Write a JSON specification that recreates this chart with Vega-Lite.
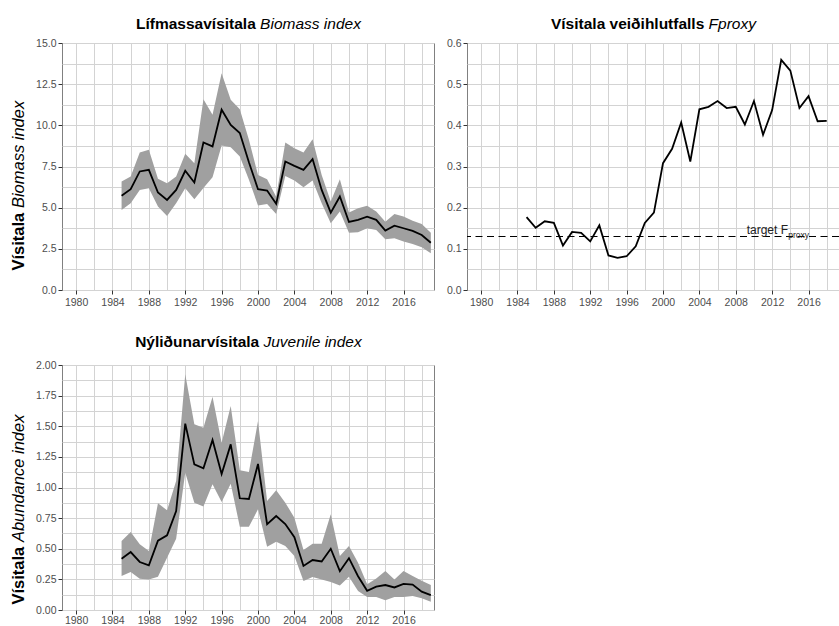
{
  "$schema": "https://vega.github.io/schema/vega-lite/v6.json",
  "background": "white",
  "padding": {"left": 9, "top": 15, "right": 0, "bottom": 0},
  "columns": 2,
  "bounds": "flush",
  "spacing": {"row": 75, "column": 33},
  "datasets": {
    "bio": [
      {"year": 1985, "est": 5.72, "lo": 4.86, "hi": 6.59},
      {"year": 1986, "est": 6.12, "lo": 5.27, "hi": 6.89},
      {"year": 1987, "est": 7.2, "lo": 6.08, "hi": 8.35},
      {"year": 1988, "est": 7.3, "lo": 6.18, "hi": 8.51},
      {"year": 1989, "est": 5.92, "lo": 5.07, "hi": 6.75},
      {"year": 1990, "est": 5.47, "lo": 4.5, "hi": 6.48},
      {"year": 1991, "est": 6.08, "lo": 5.27, "hi": 6.89},
      {"year": 1992, "est": 7.24, "lo": 6.18, "hi": 8.27},
      {"year": 1993, "est": 6.53, "lo": 5.51, "hi": 7.7},
      {"year": 1994, "est": 8.96, "lo": 6.2, "hi": 11.59},
      {"year": 1995, "est": 8.72, "lo": 6.85, "hi": 10.64},
      {"year": 1996, "est": 10.95, "lo": 8.78, "hi": 13.17},
      {"year": 1997, "est": 10.03, "lo": 8.67, "hi": 11.55},
      {"year": 1998, "est": 9.53, "lo": 8.1, "hi": 10.98},
      {"year": 1999, "est": 7.76, "lo": 6.69, "hi": 9.12},
      {"year": 2000, "est": 6.12, "lo": 5.13, "hi": 6.99},
      {"year": 2001, "est": 6.04, "lo": 5.23, "hi": 6.73},
      {"year": 2002, "est": 5.23, "lo": 4.62, "hi": 5.67},
      {"year": 2003, "est": 7.8, "lo": 6.93, "hi": 8.96},
      {"year": 2004, "est": 7.54, "lo": 6.65, "hi": 8.61},
      {"year": 2005, "est": 7.3, "lo": 6.24, "hi": 8.35},
      {"year": 2006, "est": 7.95, "lo": 6.65, "hi": 9.16},
      {"year": 2007, "est": 6.08, "lo": 5.27, "hi": 6.99},
      {"year": 2008, "est": 4.7, "lo": 4.05, "hi": 5.37},
      {"year": 2009, "est": 5.68, "lo": 4.76, "hi": 6.73},
      {"year": 2010, "est": 4.13, "lo": 3.48, "hi": 4.7},
      {"year": 2011, "est": 4.26, "lo": 3.5, "hi": 4.96},
      {"year": 2012, "est": 4.45, "lo": 3.75, "hi": 5.11},
      {"year": 2013, "est": 4.26, "lo": 3.65, "hi": 4.76},
      {"year": 2014, "est": 3.61, "lo": 3.08, "hi": 4.15},
      {"year": 2015, "est": 3.91, "lo": 3.14, "hi": 4.62},
      {"year": 2016, "est": 3.75, "lo": 2.94, "hi": 4.46},
      {"year": 2017, "est": 3.59, "lo": 2.8, "hi": 4.21},
      {"year": 2018, "est": 3.34, "lo": 2.6, "hi": 4.01},
      {"year": 2019, "est": 2.87, "lo": 2.23, "hi": 3.48}
    ],
    "fp": [
      {"year": 1985, "f": 0.177}, {"year": 1986, "f": 0.151}, {"year": 1987, "f": 0.167},
      {"year": 1988, "f": 0.163}, {"year": 1989, "f": 0.108}, {"year": 1990, "f": 0.141},
      {"year": 1991, "f": 0.139}, {"year": 1992, "f": 0.118}, {"year": 1993, "f": 0.157},
      {"year": 1994, "f": 0.084}, {"year": 1995, "f": 0.078}, {"year": 1996, "f": 0.082},
      {"year": 1997, "f": 0.106}, {"year": 1998, "f": 0.163}, {"year": 1999, "f": 0.188},
      {"year": 2000, "f": 0.308}, {"year": 2001, "f": 0.343}, {"year": 2002, "f": 0.407},
      {"year": 2003, "f": 0.312}, {"year": 2004, "f": 0.439}, {"year": 2005, "f": 0.445},
      {"year": 2006, "f": 0.459}, {"year": 2007, "f": 0.442}, {"year": 2008, "f": 0.445},
      {"year": 2009, "f": 0.402}, {"year": 2010, "f": 0.459}, {"year": 2011, "f": 0.377},
      {"year": 2012, "f": 0.437}, {"year": 2013, "f": 0.559}, {"year": 2014, "f": 0.533},
      {"year": 2015, "f": 0.442}, {"year": 2016, "f": 0.471}, {"year": 2017, "f": 0.41},
      {"year": 2018, "f": 0.411}
    ],
    "tgt": [{"F": 0.13}],
    "juv": [
      {"year": 1985, "est": 0.419, "lo": 0.278, "hi": 0.563},
      {"year": 1986, "est": 0.473, "lo": 0.31, "hi": 0.637},
      {"year": 1987, "est": 0.392, "lo": 0.256, "hi": 0.536},
      {"year": 1988, "est": 0.365, "lo": 0.25, "hi": 0.482},
      {"year": 1989, "est": 0.566, "lo": 0.272, "hi": 0.871},
      {"year": 1990, "est": 0.61, "lo": 0.427, "hi": 0.814},
      {"year": 1991, "est": 0.808, "lo": 0.582, "hi": 1.053},
      {"year": 1992, "est": 1.521, "lo": 1.121, "hi": 1.924},
      {"year": 1993, "est": 1.189, "lo": 0.876, "hi": 1.516},
      {"year": 1994, "est": 1.156, "lo": 0.844, "hi": 1.488},
      {"year": 1995, "est": 1.388, "lo": 1.026, "hi": 1.741},
      {"year": 1996, "est": 1.11, "lo": 0.882, "hi": 1.366},
      {"year": 1997, "est": 1.352, "lo": 1.031, "hi": 1.665},
      {"year": 1998, "est": 0.912, "lo": 0.68, "hi": 1.14},
      {"year": 1999, "est": 0.906, "lo": 0.68, "hi": 1.127},
      {"year": 2000, "est": 1.192, "lo": 0.822, "hi": 1.543},
      {"year": 2001, "est": 0.7, "lo": 0.517, "hi": 0.89},
      {"year": 2002, "est": 0.767, "lo": 0.558, "hi": 0.977},
      {"year": 2003, "est": 0.702, "lo": 0.522, "hi": 0.876},
      {"year": 2004, "est": 0.595, "lo": 0.441, "hi": 0.754},
      {"year": 2005, "est": 0.36, "lo": 0.237, "hi": 0.49},
      {"year": 2006, "est": 0.408, "lo": 0.269, "hi": 0.541},
      {"year": 2007, "est": 0.396, "lo": 0.25, "hi": 0.541},
      {"year": 2008, "est": 0.5, "lo": 0.229, "hi": 0.781},
      {"year": 2009, "est": 0.317, "lo": 0.201, "hi": 0.441},
      {"year": 2010, "est": 0.423, "lo": 0.272, "hi": 0.522},
      {"year": 2011, "est": 0.276, "lo": 0.155, "hi": 0.386},
      {"year": 2012, "est": 0.157, "lo": 0.106, "hi": 0.21},
      {"year": 2013, "est": 0.191, "lo": 0.106, "hi": 0.258},
      {"year": 2014, "est": 0.204, "lo": 0.079, "hi": 0.318},
      {"year": 2015, "est": 0.184, "lo": 0.106, "hi": 0.25},
      {"year": 2016, "est": 0.213, "lo": 0.106, "hi": 0.318},
      {"year": 2017, "est": 0.207, "lo": 0.114, "hi": 0.278},
      {"year": 2018, "est": 0.15, "lo": 0.095, "hi": 0.239},
      {"year": 2019, "est": 0.122, "lo": 0.068, "hi": 0.204}
    ]
  },
  "concat": [
    {
      "width": 372,
      "height": 247,
      "data": {"name": "bio"},
      "layer": [
        {
          "mark": {"type": "area", "color": "#a0a0a0"},
          "encoding": {
            "x": {"field": "year", "type": "quantitative", "scale": {"domain": [1978.45, 2019.35], "nice": false, "zero": false},
              "axis": {"orient": "bottom", "values": [1980,1982,1984,1986,1988,1990,1992,1994,1996,1998,2000,2002,2004,2006,2008,2010,2012,2014,2016,2018], "labels": false, "ticks": false, "domain": false, "grid": true,
                "title": "Biomass index", "titleFontStyle": "italic", "titleFontWeight": "normal", "titleAngle": 0, "titleAlign": "left", "titleBaseline": "alphabetic", "titleX": 197.6, "titleY": -261.7}},
            "y": {"field": "lo", "type": "quantitative", "scale": {"domain": [0, 15], "nice": false},
              "axis": {"orient": "left", "values": [0,1.25,2.5,3.75,5,6.25,7.5,8.75,10,11.25,12.5,13.75,15], "labels": false, "ticks": false, "domain": false, "grid": true,
                "title": "Biomass index", "titleFontSize": 16.5, "titleFontStyle": "italic", "titleFontWeight": "normal", "titleAngle": 270, "titleAlign": "left", "titleBaseline": "alphabetic", "titleX": -39, "titleY": 164.6}},
            "y2": {"field": "hi"}
          }
        },
        {
          "mark": {"type": "line", "color": "#000000", "strokeWidth": 1.8},
          "encoding": {
            "x": {"field": "year", "type": "quantitative", "scale": {"domain": [1978.45, 2019.35], "nice": false, "zero": false},
              "axis": {"orient": "bottom", "values": [1980,1984,1988,1992,1996,2000,2004,2008,2012,2016], "format": "d", "grid": false, "labelFlush": false, "labelOverlap": false,
                "title": "Lífmassavísitala", "titleFontWeight": "bold", "titleAngle": 0, "titleAlign": "right", "titleBaseline": "alphabetic", "titleX": 193.3, "titleY": -261.7}},
            "y": {"field": "est", "type": "quantitative", "scale": {"domain": [0, 15], "nice": false},
              "axis": {"orient": "left", "values": [0,2.5,5,7.5,10,12.5,15], "format": ".1f", "grid": false, "labelOverlap": false,
                "title": "Vísitala", "titleFontSize": 16.5, "titleFontWeight": "bold", "titleAngle": 270, "titleAlign": "left", "titleBaseline": "alphabetic", "titleX": -39, "titleY": 227}}
          }
        }
      ],
      "resolve": {"axis": {"x": "independent", "y": "independent"}}
    },
    {
      "width": 372,
      "height": 247,
      "layer": [
        {
          "data": {"name": "tgt"},
          "mark": {"type": "rule", "color": "#000000", "strokeWidth": 1.2, "strokeDash": [7, 4.5]},
          "encoding": {
            "y": {"field": "F", "type": "quantitative", "scale": {"domain": [0, 0.6], "nice": false},
              "axis": {"orient": "left", "values": [0,0.05,0.1,0.15,0.2,0.25,0.3,0.35,0.4,0.45,0.5,0.55,0.6], "labels": false, "ticks": false, "domain": false, "grid": true, "title": null}}
          }
        },
        {
          "data": {"name": "fp"},
          "mark": {"type": "line", "color": "#000000", "strokeWidth": 1.8},
          "encoding": {
            "x": {"field": "year", "type": "quantitative", "scale": {"domain": [1978.45, 2019.35], "nice": false, "zero": false},
              "axis": {"orient": "bottom", "values": [1980,1984,1988,1992,1996,2000,2004,2008,2012,2016], "format": "d", "grid": false, "labelFlush": false, "labelOverlap": false,
                "title": "Vísitala veiðihlutfalls", "titleFontWeight": "bold", "titleAngle": 0, "titleAlign": "right", "titleBaseline": "alphabetic", "titleX": 236.8, "titleY": -261.7}},
            "y": {"field": "f", "type": "quantitative", "scale": {"domain": [0, 0.6], "nice": false},
              "axis": {"orient": "left", "values": [0,0.1,0.2,0.3,0.4,0.5,0.6], "format": ".1f", "grid": false, "labelOverlap": false, "title": null}}
          }
        },
        {
          "data": {"name": "tgt"},
          "mark": {"type": "text", "text": "target F", "align": "left", "baseline": "alphabetic", "fontSize": 12, "font": "Liberation Sans", "color": "#222222", "dy": -2.5},
          "encoding": {
            "x": {"datum": 2009.2, "type": "quantitative", "scale": {"domain": [1978.45, 2019.35], "nice": false, "zero": false},
              "axis": {"orient": "bottom", "values": [1980,1982,1984,1986,1988,1990,1992,1994,1996,1998,2000,2002,2004,2006,2008,2010,2012,2014,2016,2018], "labels": false, "ticks": false, "domain": false, "grid": true,
                "title": "Fproxy", "titleFontStyle": "italic", "titleFontWeight": "normal", "titleAngle": 0, "titleAlign": "left", "titleBaseline": "alphabetic", "titleX": 241.1, "titleY": -261.7}},
            "y": {"field": "F", "type": "quantitative", "scale": {"domain": [0, 0.6], "nice": false}, "axis": null}
          }
        },
        {
          "data": {"name": "tgt"},
          "mark": {"type": "text", "text": "proxy", "align": "left", "baseline": "alphabetic", "fontSize": 8.5, "font": "Liberation Sans", "color": "#222222", "dx": 41.5, "dy": 2},
          "encoding": {
            "x": {"datum": 2009.2, "type": "quantitative", "scale": {"domain": [1978.45, 2019.35], "nice": false, "zero": false}, "axis": null},
            "y": {"field": "F", "type": "quantitative", "scale": {"domain": [0, 0.6], "nice": false}, "axis": null}
          }
        }
      ],
      "resolve": {"axis": {"x": "independent", "y": "independent"}}
    },
    {
      "width": 372,
      "height": 245,
      "data": {"name": "juv"},
      "layer": [
        {
          "mark": {"type": "area", "color": "#a0a0a0"},
          "encoding": {
            "x": {"field": "year", "type": "quantitative", "scale": {"domain": [1978.45, 2019.35], "nice": false, "zero": false},
              "axis": {"orient": "bottom", "values": [1980,1982,1984,1986,1988,1990,1992,1994,1996,1998,2000,2002,2004,2006,2008,2010,2012,2014,2016,2018], "labels": false, "ticks": false, "domain": false, "grid": true,
                "title": "Juvenile index", "titleFontStyle": "italic", "titleFontWeight": "normal", "titleAngle": 0, "titleAlign": "left", "titleBaseline": "alphabetic", "titleX": 201, "titleY": -263.3}},
            "y": {"field": "lo", "type": "quantitative", "scale": {"domain": [0, 2], "nice": false},
              "axis": {"orient": "left", "values": [0,0.125,0.25,0.375,0.5,0.625,0.75,0.875,1,1.125,1.25,1.375,1.5,1.625,1.75,1.875,2], "labels": false, "ticks": false, "domain": false, "grid": true,
                "title": "Abundance index", "titleFontSize": 16.5, "titleFontStyle": "italic", "titleFontWeight": "normal", "titleAngle": 270, "titleAlign": "left", "titleBaseline": "alphabetic", "titleX": -39, "titleY": 176.6}},
            "y2": {"field": "hi"}
          }
        },
        {
          "mark": {"type": "line", "color": "#000000", "strokeWidth": 1.8},
          "encoding": {
            "x": {"field": "year", "type": "quantitative", "scale": {"domain": [1978.45, 2019.35], "nice": false, "zero": false},
              "axis": {"orient": "bottom", "values": [1980,1984,1988,1992,1996,2000,2004,2008,2012,2016], "format": "d", "grid": false, "labelFlush": false, "labelOverlap": false, "labelPadding": 1,
                "title": "Nýliðunarvísitala", "titleFontWeight": "bold", "titleAngle": 0, "titleAlign": "right", "titleBaseline": "alphabetic", "titleX": 196.7, "titleY": -263.3}},
            "y": {"field": "est", "type": "quantitative", "scale": {"domain": [0, 2], "nice": false},
              "axis": {"orient": "left", "values": [0,0.25,0.5,0.75,1,1.25,1.5,1.75,2], "format": ".2f", "grid": false, "labelOverlap": false,
                "title": "Vísitala", "titleFontSize": 16.5, "titleFontWeight": "bold", "titleAngle": 270, "titleAlign": "left", "titleBaseline": "alphabetic", "titleX": -39, "titleY": 239}}
          }
        }
      ],
      "resolve": {"axis": {"x": "independent", "y": "independent"}}
    }
  ],
  "config": {
    "font": "Liberation Sans",
    "view": {"stroke": "#808080", "strokeWidth": 1},
    "axis": {
      "labelFont": "Liberation Sans",
      "labelFontSize": 10.5,
      "labelColor": "#4d4d4d",
      "tickColor": "#333333",
      "tickSize": 4,
      "tickWidth": 1,
      "labelPadding": 2,
      "domain": false,
      "gridColor": "#d3d3d3",
      "gridWidth": 1,
      "titleFont": "Liberation Sans",
      "titleFontSize": 15.5,
      "titleColor": "#000000",
      "titlePadding": 0
    },
    "axisX": {"labelPadding": 3}
  }
}
